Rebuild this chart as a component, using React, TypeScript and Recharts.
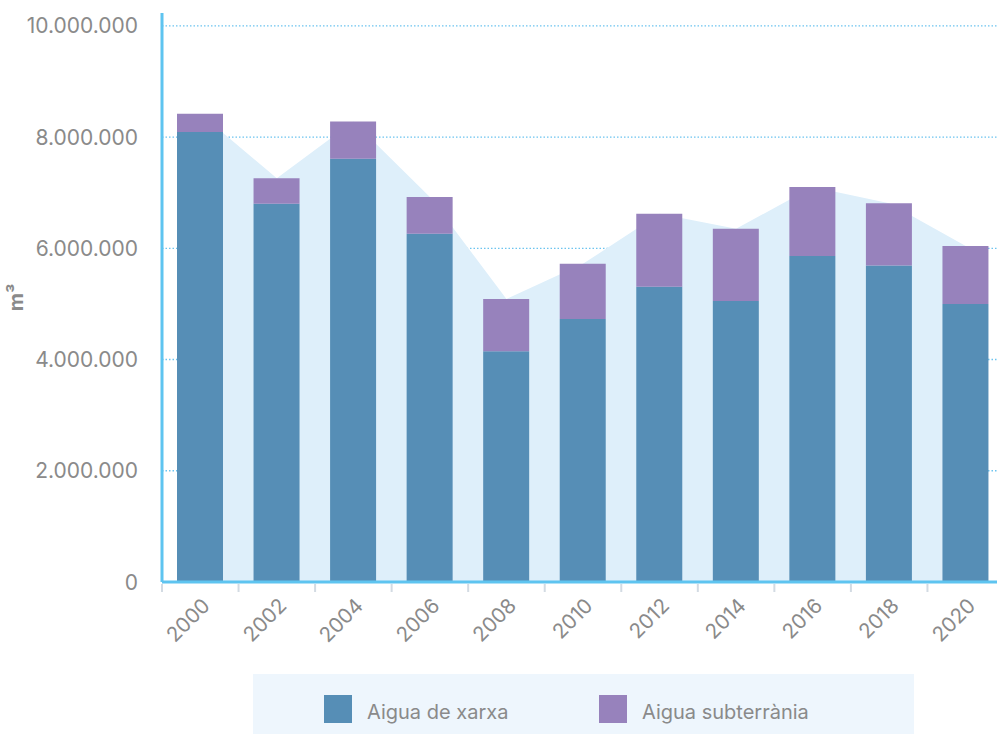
import React from "react";
import {
  ComposedChart,
  Bar,
  Area,
  XAxis,
  YAxis,
  CartesianGrid,
  Legend,
} from "recharts";

const years = ["2000", "2002", "2004", "2006", "2008", "2010", "2012", "2014", "2016", "2018", "2020"];
const aiguaXarxa = [8090000, 6800000, 7610000, 6260000, 4150000, 4730000, 5310000, 5050000, 5860000, 5690000, 5000000];
const aiguaSubterrania = [330000, 460000, 670000, 660000, 940000, 990000, 1310000, 1300000, 1240000, 1120000, 1040000];
const yTicks = [0, 2000000, 4000000, 6000000, 8000000, 10000000];
const seriesNames = ["Aigua de xarxa", "Aigua subterrània"];

const BLUE = "#568eb6";
const PURPLE = "#9782bc";
const AREA = "#deeffa";
const AXIS = "#5ec4f0";
const TEXT = "#8a8a8a";
const FONT = "Inter, 'Open Sans', sans-serif";

const data = years.map((y, i) => ({
  year: y,
  xarxa: aiguaXarxa[i],
  sub: aiguaSubterrania[i],
  total: aiguaXarxa[i] + aiguaSubterrania[i],
}));

const fmt = (v: number) => String(v).replace(/\B(?=(\d{3})+(?!\d))/g, ".");

const XTick = (props: any) => {
  const { x, y, payload } = props;
  const off = payload && payload.offset ? payload.offset : 38.25;
  return (
    <g>
      <line x1={x - off} x2={x - off} y1={y + 2} y2={y + 10} stroke="#d3dbe3" strokeWidth={2} />
      <text
        x={x + 11}
        y={y + 25}
        textAnchor="end"
        fill={TEXT}
        fontSize={20.5}
        fontFamily={FONT}
        transform={`rotate(-45, ${x + 11}, ${y + 25})`}
      >
        {payload.value}
      </text>
    </g>
  );
};

const YTick = (props: any) => {
  const { x, y, payload } = props;
  return (
    <text x={x} y={y} dy={7.5} textAnchor="end" fill={TEXT} fontSize={21} fontFamily={FONT}>
      {fmt(payload.value)}
    </text>
  );
};

const LegendContent = () => (
  <div
    style={{
      width: 661,
      height: 60,
      background: "#eef6fd",
      position: "relative",
      fontFamily: FONT,
      fontSize: 20,
      color: TEXT,
    }}
  >
    <div style={{ position: "absolute", left: 71, top: 21, width: 28, height: 28, background: BLUE }} />
    <div style={{ position: "absolute", left: 114, top: 26, lineHeight: "24px", whiteSpace: "nowrap" }}>
      {seriesNames[0]}
    </div>
    <div style={{ position: "absolute", left: 346, top: 21, width: 28, height: 28, background: PURPLE }} />
    <div style={{ position: "absolute", left: 389, top: 26, lineHeight: "24px", whiteSpace: "nowrap" }}>
      {seriesNames[1]}
    </div>
  </div>
);

export default function App() {
  return (
    <div
      style={{
        position: "absolute",
        left: 0,
        top: 0,
        width: 997,
        height: 734,
        overflow: "hidden",
        background: "#fff",
      }}
    >
      <ComposedChart
        width={1004}
        height={734}
        data={data}
        margin={{ top: 13, right: 0, left: 0, bottom: 92 }}
      >
        <CartesianGrid
          vertical={false}
          syncWithTicks
          stroke="#6cc4ef"
          strokeDasharray="1.5 2"
          strokeWidth={1.3}
        />
        <XAxis
          dataKey="year"
          xAxisId={0}
          height={60}
          axisLine={{ stroke: AXIS, strokeWidth: 3 }}
          tickLine={false}
          tickSize={0}
          tickMargin={0}
          interval={0}
          tick={<XTick />}
        />
        <YAxis
          width={162}
          domain={[0, 10230000]}
          ticks={yTicks}
          allowDataOverflow
          axisLine={{ stroke: AXIS, strokeWidth: 3 }}
          tickLine={false}
          tickSize={0}
          tickMargin={24}
          tick={<YTick />}
          label={{
            value: "m³",
            angle: -90,
            position: "insideLeft",
            dx: 11,
            dy: 0,
            style: { fill: TEXT, fontSize: 20, fontWeight: 700, fontFamily: FONT, textAnchor: "middle" },
          }}
        />
        <Area
          type="linear"
          dataKey="total"
          fill={AREA}
          fillOpacity={1}
          stroke="none"
          isAnimationActive={false}
          legendType="none"
        />
        <Bar dataKey="xarxa" stackId="a" fill={BLUE} barSize={46} isAnimationActive={false} name={seriesNames[0]} />
        <Bar dataKey="sub" stackId="a" fill={PURPLE} barSize={46} isAnimationActive={false} name={seriesNames[1]} />
        <Legend
          layout="horizontal"
          verticalAlign="middle"
          align="center"
          content={<LegendContent />}
          wrapperStyle={{ left: 253, top: 674, width: 661, height: 60 }}
        />
      </ComposedChart>
    </div>
  );
}
